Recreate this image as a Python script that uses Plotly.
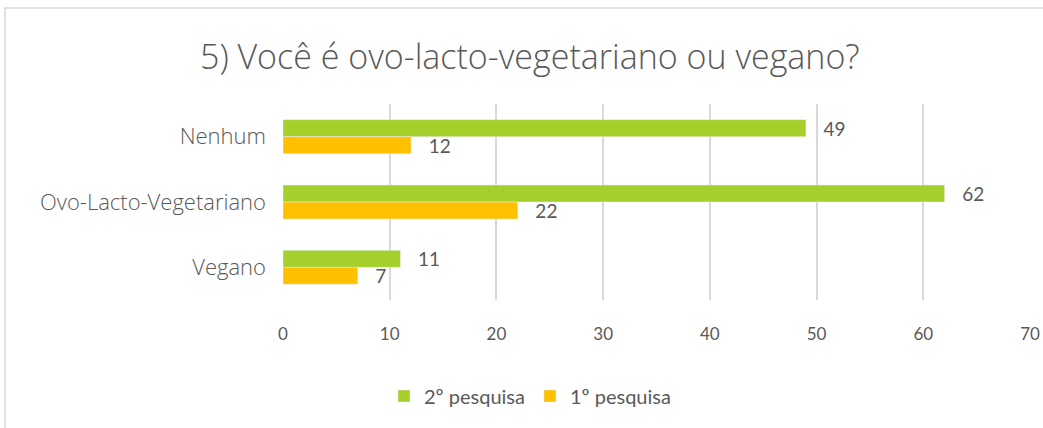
import plotly.graph_objects as go

categories = ["Nenhum", "Ovo-Lacto-Vegetariano", "Vegano"]
pesquisa2 = [49, 62, 11]
pesquisa1 = [12, 22, 7]
x_ticks = [0, 10, 20, 30, 40, 50, 60, 70]

W, H = 1043, 428
L, R, T, B = 283, 13, 104, 128
pw, ph = W - L - R, H - T - B

def px_x(p):
    return (p - L) / pw

def px_y(p):
    return (H - B - p) / ph

font_fam = "Lato, Open Sans, sans-serif"
gray = "#595959"

fig = go.Figure()
fig.add_trace(go.Bar(y=categories, x=pesquisa2, orientation="h", name="2º pesquisa",
                     marker_color="#a5cf2a", texttemplate="   %{x}", textposition="outside",
                     constraintext="none",
                     textfont=dict(size=19, color=gray, family=font_fam), cliponaxis=False))
fig.add_trace(go.Bar(y=categories, x=pesquisa1, orientation="h", name="1º pesquisa",
                     marker_color="#ffc000", texttemplate="   %{x}", textposition="outside",
                     constraintext="none",
                     textfont=dict(size=19, color=gray, family=font_fam), cliponaxis=False))

fig.update_layout(
    width=W, height=H,
    margin=dict(l=L, r=R, t=T, b=B, autoexpand=False),
    paper_bgcolor="white", plot_bgcolor="white",
    barmode="group", bargap=0.48, bargroupgap=0,
    title=dict(text="5) Você é ovo-lacto-vegetariano ou vegano?", x=0.508, xanchor="center",
               y=1 - 57 / H, yanchor="middle",
               font=dict(size=34, color=gray, family="Open Sans, sans-serif", weight=300)),
    font=dict(family=font_fam, color=gray),
    showlegend=True,
    legend=dict(orientation="h", x=px_x(530), xanchor="center", y=px_y(396), yanchor="middle",
                font=dict(size=20, color=gray, family=font_fam), itemwidth=30),
    xaxis=dict(range=[0, 70], tickvals=x_ticks, showgrid=True, gridcolor="#d9d9d9", gridwidth=1.5,
               zeroline=False, showline=False, tickfont=dict(size=17, color=gray, family=font_fam),
               ticklabelstandoff=22),
    yaxis=dict(autorange="reversed", showgrid=False, showline=False,
               tickfont=dict(size=22, color=gray, family="Open Sans, sans-serif", weight=300),
               ticklabelstandoff=16),
    shapes=[
        dict(type="line", xref="paper", yref="paper", x0=px_x(4), x1=px_x(1043), y0=px_y(8), y1=px_y(8),
             line=dict(color="#d9d9d9", width=1.5)),
        dict(type="line", xref="paper", yref="paper", x0=px_x(5), x1=px_x(5), y0=px_y(8), y1=px_y(428),
             line=dict(color="#d9d9d9", width=1.5)),
    ],
)

fig.write_html("out.html", config={"displayModeBar": False},
               post_script="document.body.style.margin='0';document.body.style.overflow='hidden';")
